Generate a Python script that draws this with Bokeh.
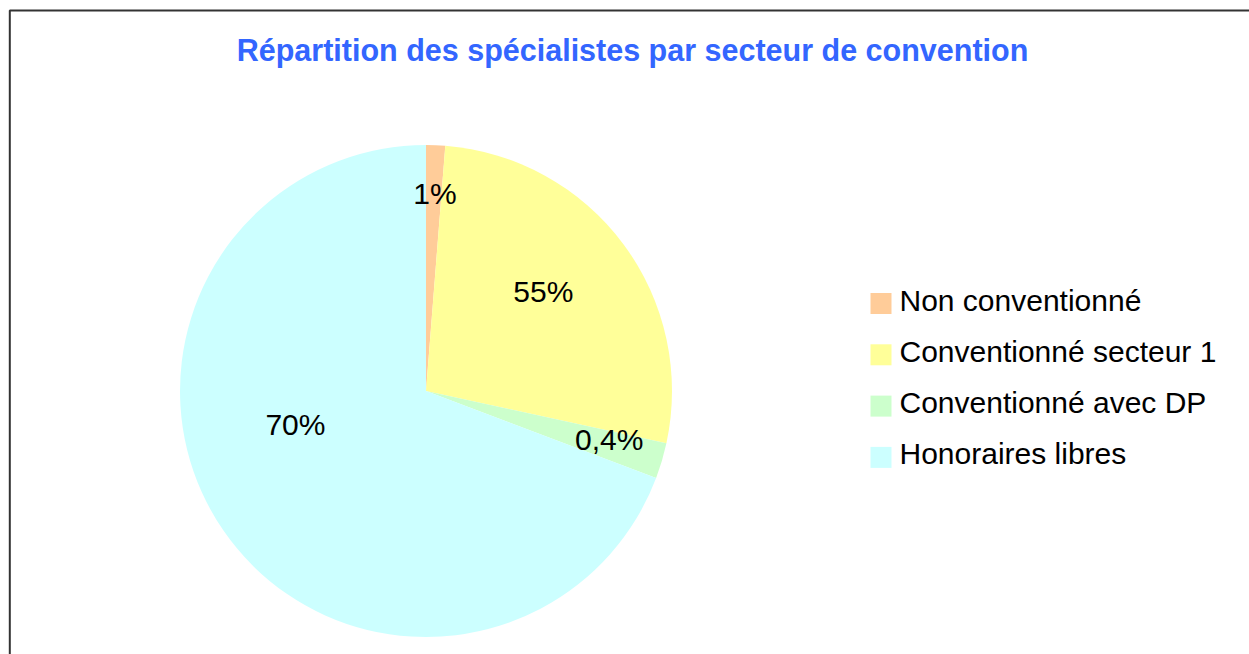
import numpy as np
from bokeh.plotting import figure
from bokeh.models import ColumnDataSource, Range1d, BoxAnnotation, Label
from bokeh.core.properties import value
from bokeh.embed import file_html
from bokeh.resources import INLINE

# ---- data ----
categories = ["Non conventionné", "Conventionné secteur 1", "Conventionné avec DP", "Honoraires libres"]
shares = [1.25, 27.15, 2.35, 69.25]          # slice sizes (%)
label_texts = ["1%", "55%", "0,4%", "70%"]   # data labels as printed on the chart
colors = ["#FFCC99", "#FFFF99", "#CCFFCC", "#CCFFFF"]
title_text = "Répartition des spécialistes par secteur de convention"

# ---- layout / style ----
W, H = 1249, 654
cx, cy, R = 425.5, H - 390.5, 246.0
label_r = [0.804, 0.626, 0.770, 0.548]
label_shift_deg = [0.35, -3.7, -1.7, 20.25]
FONT = "Liberation Sans"

vals = np.array(shares, dtype=float)
frac = vals / vals.sum()
cum = np.concatenate([[0.0], np.cumsum(frac)])
start = np.pi / 2 - cum[1:] * 2 * np.pi
end = np.pi / 2 - cum[:-1] * 2 * np.pi
mid_cw = (cum[:-1] + cum[1:]) / 2 * 360 + np.array(label_shift_deg)  # clockwise from top, degrees
lr = np.array(label_r) * R
lx = cx + lr * np.sin(np.radians(mid_cw))
ly = cy + lr * np.cos(np.radians(mid_cw))

src = ColumnDataSource(dict(cat=categories, start=start, end=end, color=colors,
                            lx=lx, ly=ly, lt=label_texts))

p = figure(width=W, height=H, output_backend="svg", toolbar_location=None,
           x_range=Range1d(0, W), y_range=Range1d(0, H), min_border=0,
           x_axis_type=None, y_axis_type=None)
p.grid.visible = False
p.outline_line_color = None
p.background_fill_color = "white"
p.border_fill_color = "white"

p.wedge(x=cx, y=cy, radius=R, start_angle="start", end_angle="end",
        fill_color="color", line_color=None, source=src)

p.text(x="lx", y="ly", text="lt", source=src, text_align="center", text_baseline="middle",
       text_font=value(FONT), text_font_size="30px", text_color="black")

# legend drawn from categories
n = len(categories)
idx = np.arange(n)
leg = ColumnDataSource(dict(
    x=np.full(n, 880.5), y=(H - 303.0) - idx * 51.3,
    tx=np.full(n, 899.0), ty=(H - 299.5) - idx * 51.3,
    cat=categories, color=colors))
p.scatter(x="x", y="y", marker="square", size=21, fill_color="color", line_color=None, source=leg)
p.text(x="tx", y="ty", text="cat", source=leg, text_align="left", text_baseline="middle",
       text_font=value(FONT), text_font_size="30px", text_color="black")

# title
p.add_layout(Label(x=632, y=H - 49.6, text=title_text, text_align="center", text_baseline="middle",
                   text_font=FONT, text_font_size="30.5px", text_font_style="bold",
                   text_color="#3366FF"))

# chart border (left and top edges visible, right/bottom beyond the picture)
p.add_layout(BoxAnnotation(left=9.3, right=W + 40, top=H - 10.0, bottom=-40,
                           fill_alpha=0, line_color="#333333", line_alpha=1.0, line_width=2))

open("out.html", "w").write(file_html(p, INLINE))
